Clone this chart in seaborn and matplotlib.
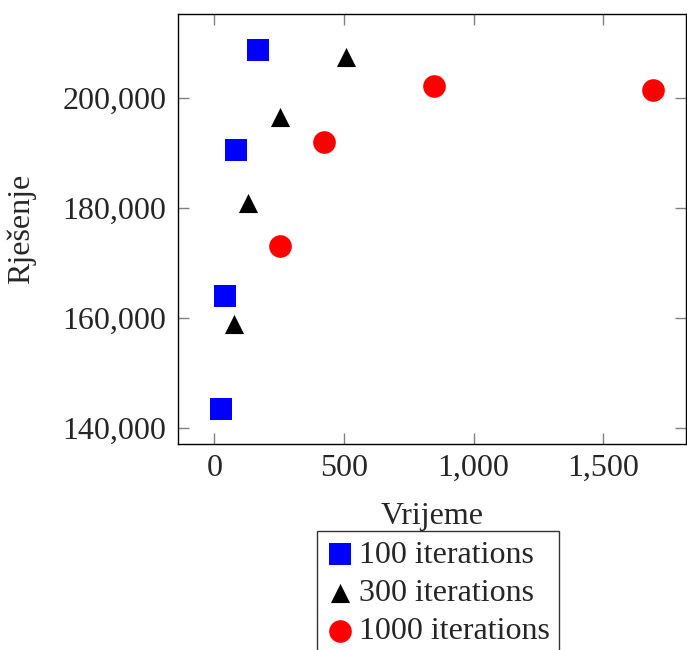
import seaborn as sns
import matplotlib.pyplot as plt
import pandas as pd
from matplotlib.ticker import FuncFormatter

# data
series_names = ["100 iterations", "300 iterations", "1000 iterations"]
time_100 = [26, 42, 85, 170]
sol_100 = [143600, 164000, 190500, 208800]
time_300 = [77, 129, 255, 508]
sol_300 = [159000, 181000, 196600, 207400]
time_1000 = [253, 424, 847, 1691]
sol_1000 = [173200, 192000, 202200, 201500]

df = pd.DataFrame({
    "Vrijeme": time_100 + time_300 + time_1000,
    "Rješenje": sol_100 + sol_300 + sol_1000,
    "serija": [series_names[0]] * 4 + [series_names[1]] * 4 + [series_names[2]] * 4,
})

sns.set_style("white")
plt.rcParams["font.family"] = ["Liberation Serif", "DejaVu Serif"]

fig = plt.figure(figsize=(6.87, 6.5), dpi=100)
ax = fig.add_axes([0.2587, 0.3165, 0.7398, 0.662])

colors = ["#0000ff", "#000000", "#ff0000"]
markers = ["s", "^", "o"]
sizes = [250, 190, 266]
for name, c, m, s in zip(series_names, colors, markers, sizes):
    sns.scatterplot(data=df[df["serija"] == name], x="Vrijeme", y="Rješenje",
                    color=c, marker=m, s=s, linewidth=0, label=name, ax=ax)

ax.set_xlim(-141, 1819)
ax.set_ylim(137100, 215300)
ax.set_xticks([0, 500, 1000, 1500])
ax.set_yticks([140000, 160000, 180000, 200000])
fmt = FuncFormatter(lambda v, p: f"{int(v):,}")
ax.xaxis.set_major_formatter(fmt)
ax.yaxis.set_major_formatter(fmt)

ax.tick_params(axis="both", which="major", direction="in", length=8, width=1,
               color="#808080", labelsize=23, top=True, right=True,
               bottom=True, left=True)
ax.tick_params(axis="x", pad=7)
ax.tick_params(axis="y", pad=8)
for sp in ax.spines.values():
    sp.set_color("black")
    sp.set_linewidth(1)
    sp.set_visible(True)

ax.set_xlabel("Vrijeme", fontsize=23, labelpad=14)
ax.set_ylabel("Rješenje", fontsize=23, labelpad=19)

ax.get_legend().remove()
handles, labels = ax.get_legend_handles_labels()
leg = fig.legend(handles, labels, loc="upper left", bbox_to_anchor=(0.462, 0.1835),
                 borderaxespad=0, fontsize=23, frameon=True, fancybox=False,
                 edgecolor="black", handletextpad=0.2, handlelength=0.8,
                 labelspacing=0.28, borderpad=0.3)
leg.get_frame().set_linewidth(1)

fig.savefig("out.png", dpi=100)
